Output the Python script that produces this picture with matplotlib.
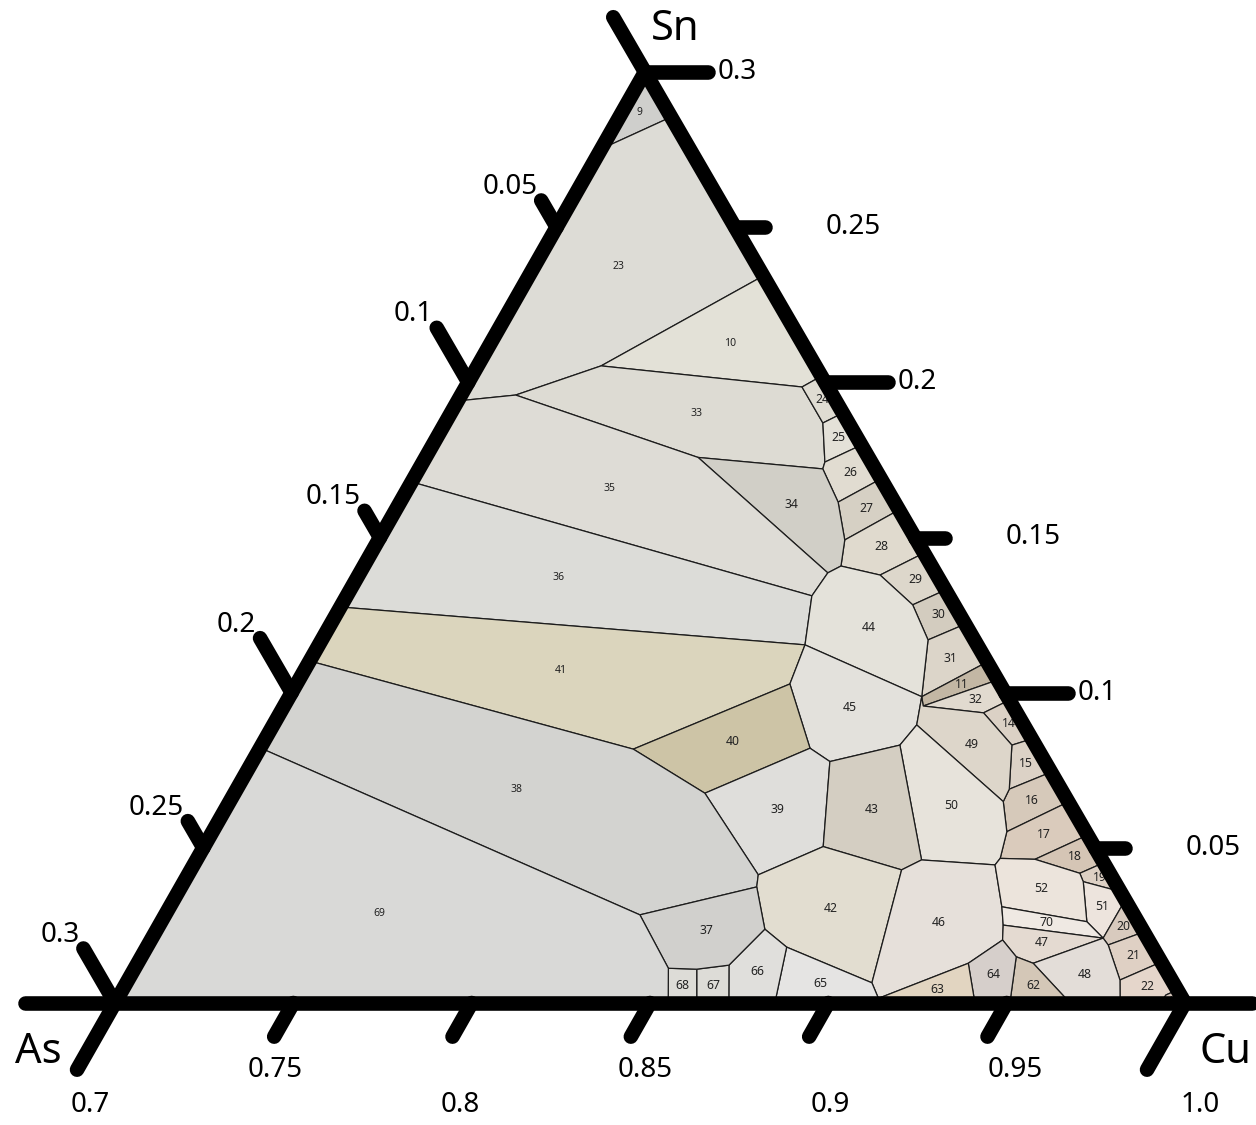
import matplotlib
matplotlib.use("Agg")
import matplotlib.pyplot as plt
from matplotlib.transforms import Affine2D, offset_copy
from matplotlib.patches import Polygon
import numpy as np

plt.rcParams['font.family'] = ['Noto Sans', 'DejaVu Sans']

# ---------------- data (compositions in percent; Cu = 100 - As - Sn) ----------------
# vertices lying on the As-Sn edge (Cu = 70 %), given by their Sn content
left_edge_sn = [27.52, 19.40, 16.79, 12.76, 11.02, 8.22]
# vertices lying on the Cu-Sn edge (As = 0), given by their Sn content
right_edge_sn = [28.55, 23.43, 20.20, 19.01, 17.98, 16.89, 15.89, 14.50, 13.31, 12.21,
                 10.99, 10.41, 9.76, 8.51, 7.44, 6.48, 5.41, 4.52, 3.59, 3.32, 2.29, 1.32, 0.42]
# vertices lying on the Cu-As edge (Sn = 0), given by their As content
bottom_edge_as = [14.49, 13.69, 12.79, 11.50, 8.60, 5.89, 4.91, 3.22, 1.82, 0.70]
# interior vertices
interior_ids = ["V10", "V23a", "V24a", "V24b", "VA", "VB", "V33c", "V26b", "V27b", "V28c",
                "VC", "V36r", "VQ", "V29a", "V30a", "V31a", "V11a", "V11b", "V14a", "V15a",
                "V16a", "V50a", "V17a", "V17b", "V52a", "V18a", "V19a", "V51a", "V70a", "V70b",
                "V20a", "V21a", "V52b", "V47a", "V47b", "V62a", "V48a", "V63a", "V65b", "V42c",
                "V42d", "V66a", "V37b", "V39d", "V42a", "V43c", "V46a", "V45d", "V45c", "V43a",
                "V40c", "V40b", "V40a", "V39a", "V37a", "V37d", "V37c", "V66b", "V13a"]
interior_as = [6.01, 8.88, 0.72, 0.72, 1.30, 1.47, 4.78, 1.58, 2.01, 2.54,
               3.02, 3.84, 4.83, 1.59, 1.16, 1.30, 2.40, 2.51, 0.93, 0.66,
               1.45, 1.82, 2.21, 2.83, 3.08, 1.87, 0.84, 0.88, 1.43, 1.24,
               1.21, 1.45, 3.57, 3.83, 4.09, 3.98, 3.61, 5.43, 8.52, 8.45,
               10.26, 10.58, 10.12, 9.88, 7.60, 5.78, 5.06, 3.80, 3.00, 6.03,
               6.37, 5.89, 11.34, 10.05, 13.85, 13.92, 13.14, 12.17, 0.40]
interior_sn = [20.53, 19.59, 19.85, 18.69, 17.43, 17.21, 17.58, 16.14, 14.92, 14.08,
               13.86, 13.12, 11.54, 13.79, 12.83, 11.70, 9.87, 9.57, 9.35, 8.31,
               6.89, 6.49, 5.52, 4.66, 4.45, 4.63, 4.18, 3.91, 2.62, 2.09,
               1.87, 0.74, 3.10, 2.51, 2.03, 1.49, 1.28, 1.28, 0.15, 0.65,
               1.80, 2.38, 3.74, 4.13, 5.04, 4.29, 4.61, 8.31, 8.96, 7.78,
               8.21, 10.28, 8.18, 6.76, 2.84, 1.12, 1.09, 1.22, 0.26]

cell_labels = ["9", "23", "10", "33", "24", "25", "26", "27", "28", "29", "30", "31", "11", "32",
               "14", "15", "16", "17", "18", "19", "51", "20", "21", "22", "13", "34", "35", "36",
               "44", "41", "45", "49", "50", "40", "39", "43", "38", "42", "46", "52", "70", "47",
               "48", "62", "64", "63", "65", "66", "67", "68", "37", "69"]
cell_vertices = [
    "SN R1 L1", "L1 R1 R2 V10 V23a L2", "V10 R2 R3 V24a", "V23a V10 V24a V24b VA VB V33c",
    "V24a R3 R4 V24b", "V24b R4 R5 VA", "VA R5 R6 V26b VB", "V26b R6 R7 V27b",
    "V27b R7 R8 V29a V28c", "V29a R8 R9 V30a", "V30a R9 R10 V31a", "V31a R10 R11 V11a",
    "V11a R11 R12 V11b", "V11b R12 R13 V14a", "V14a R13 R14 V15a", "V15a R14 R15 V16a",
    "V16a R15 R16 V17a V50a", "V17a R16 R17 V18a V17b", "V18a R17 R18 V19a",
    "V19a R18 R19 V51a", "V51a R19 R20 V70b V70a", "V70b R20 R21 V20a", "V20a R21 R22 V21a",
    "V21a R22 R23 V13a B10 B9", "V13a R23 CU B10", "V33c VB V26b V27b V28c VC",
    "L2 V23a V33c VC V36r L3", "L3 V36r VQ L4", "VC V28c V29a V30a V31a V11a VQ V36r",
    "L4 VQ V40b V40a L5", "VQ V11a V45c V45d V43a V40c V40b",
    "V11a V11b V14a V15a V16a V50a V45c", "V45c V50a V17a V17b V52a V46a V45d",
    "V40a V40b V40c V39a", "V39a V40c V43a V42a V39d", "V43a V45d V46a V43c V42a",
    "L5 V40a V39a V39d V37b V37a L6", "V37b V39d V42a V43c V42c V42d V66a",
    "V43c V46a V52a V52b V47a V47b V63a V65b V42c", "V17b V18a V19a V51a V70a V52b V52a",
    "V52b V70a V70b V47a", "V47a V70b V48a V62a V47b", "V48a V70b V20a V21a B9 B8",
    "V62a V48a B8 B7", "V63a V47b V62a B7 B6", "V65b V63a B6 B5", "V42d V42c V65b B5 B4",
    "B3 V66b V66a V42d B4", "B2 V37c V66b B3", "B1 V37d V37c B2",
    "V37a V37b V66a V66b V37c V37d", "L6 V37a V37d B1 AS"]
cell_colors = ["#cfcfcc", "#dddcd6", "#e3e1d7", "#dddbd3", "#dfdcd2", "#e4e1d8", "#e1dcd1",
               "#d6d0c4", "#e0dace", "#ddd7cb", "#d3ccbf", "#dcd5c9", "#c3b7a4", "#e1dacf",
               "#dbd1c5", "#dcd2c6", "#d6c9ba", "#dacbbc", "#d5c5b5", "#ddd0c4", "#ede4dd",
               "#d8cabe", "#dfd0c4", "#e5d6cb", "#d8c8bd", "#d1cfc7", "#dedcd6", "#dcdcd8",
               "#e4e2da", "#dbd5bd", "#e3e1dc", "#ddd6ca", "#e7e3db", "#cdc4a6", "#dfdedb",
               "#d4cec2", "#d3d3d0", "#e2ddd0", "#e6e0da", "#ece4dc", "#efe9e3", "#e4dad1",
               "#e3ddd8", "#d4c7b7", "#d6cfcb", "#e2d5c1", "#e5e4e3", "#e0dfdc", "#dddcd7",
               "#dddcd7", "#d1d0cd", "#d9d9d7"]
small_label_cells = ["9", "23", "10", "33", "35", "36", "41", "38", "69"]

cu_ticks = [0.7, 0.75, 0.8, 0.85, 0.9, 0.95, 1.0]
cu_tick_labels = ["0.7", "0.75", "0.8", "0.85", "0.9", "0.95", "1.0"]
sn_ticks = [0.05, 0.1, 0.15, 0.2, 0.25, 0.3]
sn_tick_labels = ["0.05", "0.1", "0.15", "0.2", "0.25", "0.3"]
as_ticks = [0.05, 0.1, 0.15, 0.2, 0.25, 0.3]
as_tick_labels = ["0.05", "0.1", "0.15", "0.2", "0.25", "0.3"]

# ---------------- layout ----------------
W, H = 1256, 1125
SPAN = 30.0                      # composition span of the triangle (percent)
CU_PX, AS_PX, SN_PX = (1185, 1003), (115, 1003), (645, 72)

fig = plt.figure(figsize=(W / 100, H / 100), dpi=100)
ax = fig.add_axes([0, 0, 1, 1])
ax.set_xlim(0, W)
ax.set_ylim(H, 0)
ax.axis("off")

# affine map (As %, Sn %) -> axes data
M = np.array([[(AS_PX[0] - CU_PX[0]) / SPAN, (SN_PX[0] - CU_PX[0]) / SPAN, CU_PX[0]],
              [(AS_PX[1] - CU_PX[1]) / SPAN, (SN_PX[1] - CU_PX[1]) / SPAN, CU_PX[1]],
              [0, 0, 1]])
tern = Affine2D(M) + ax.transData
PX_PER_PCT = 35.7

def off(dx, dy):
    return offset_copy(tern, fig=fig, x=dx, y=-dy, units="dots")

# vertex lookup
verts = {"AS": (SPAN, 0.0), "CU": (0.0, 0.0), "SN": (0.0, SPAN)}
for i, s in enumerate(left_edge_sn):
    verts[f"L{i+1}"] = (SPAN - s, s)
for i, s in enumerate(right_edge_sn):
    verts[f"R{i+1}"] = (0.0, s)
for i, a in enumerate(bottom_edge_as):
    verts[f"B{i+1}"] = (a, 0.0)
for k, a, s in zip(interior_ids, interior_as, interior_sn):
    verts[k] = (a, s)

def centroid(pts):
    p = np.asarray(pts)
    x, y = p[:, 0], p[:, 1]
    x1, y1 = np.roll(x, -1), np.roll(y, -1)
    cr = x * y1 - x1 * y
    A = cr.sum() / 2
    return (((x + x1) * cr).sum() / (6 * A), ((y + y1) * cr).sum() / (6 * A))

for lab, vs, col in zip(cell_labels, cell_vertices, cell_colors):
    pts = [verts[v] for v in vs.split()]
    ax.add_patch(Polygon(pts, closed=True, transform=tern, facecolor=col,
                         edgecolor="#1c1c1c", linewidth=0.9, zorder=1))
    cx, cy = centroid(pts)
    fs = 7.5 if lab in small_label_cells else (4 if lab == "13" else 8.8)
    ax.text(cx, cy, lab, transform=tern, fontsize=fs, ha="center", va="center",
            color="#222222", zorder=2)

# ---------------- frame and ticks ----------------
LW = 10.5
kw = dict(color="black", linewidth=LW, solid_capstyle="round", zorder=5)

def seg(p0, p1):
    ax.plot([p0[0], p1[0]], [p0[1], p1[1]], transform=tern, **kw)

# edges (with their extensions)
seg((SPAN + 90 / PX_PER_PCT, 0), (-67 / PX_PER_PCT, 0))          # bottom line
seg((0, 0), (0, SPAN + 63 / PX_PER_PCT))                           # Cu-Sn edge
seg((SPAN, 0), (0, SPAN))                                          # As-Sn edge

cap = LW * 1.389 / 2
# Cu ticks (parallel to the As-Sn edge)
for t in cu_ticks:
    a0 = 100 * (1 - t)
    L = 84 if t in (0.7, 1.0) else 46
    d = (L - cap) / PX_PER_PCT
    seg((a0, 0), (a0 + d, -d))
# Sn ticks (horizontal)
for t in sn_ticks:
    s0 = 100 * t
    L = 70 if t in (0.1, 0.2, 0.3) else 37
    d = (L - cap) / PX_PER_PCT
    seg((0, s0), (-d, s0))
# As ticks (parallel to the Cu-Sn edge)
for t in as_ticks:
    a0 = 100 * t
    s0 = SPAN - a0
    L = 70 if t in (0.1, 0.2, 0.3) else 38
    d = (L - cap) / PX_PER_PCT
    seg((a0, s0), (a0, s0 + d))

# ---------------- tick labels ----------------
TFS = 20
for t, lab in zip(sn_ticks, sn_tick_labels):
    major = t in (0.1, 0.2, 0.3)
    dx = 73 if major else 91
    ax.text(0, 100 * t, lab, transform=off(dx, 0), fontsize=TFS, ha="left", va="center")
for t, lab in zip(as_ticks, as_tick_labels):
    a0 = 100 * t
    L = 70 if t in (0.1, 0.2, 0.3) else 38
    d = L / PX_PER_PCT
    ax.text(a0, SPAN - a0 + d, lab, transform=off(0, 0), fontsize=TFS,
            ha="right", va="baseline")
for t, lab in zip(cu_ticks, cu_tick_labels):
    a0 = 100 * (1 - t)
    major = t in (0.7, 0.8, 0.9, 1.0)
    dx = -25 + 40 * (t - 0.7) / 0.3
    dy = 102 if major else 67
    ax.text(a0, 0, lab, transform=off(dx, dy), fontsize=TFS, ha="center", va="center")

# corner labels
ax.text(0, SPAN, "Sn", transform=off(30, -43), fontsize=30, ha="center", va="center")
ax.text(SPAN, 0, "As", transform=off(-77, 49), fontsize=30, ha="center", va="center")
ax.text(0, 0, "Cu", transform=off(40, 49), fontsize=30, ha="center", va="center")

fig.savefig("out.png", dpi=100, facecolor="white")
